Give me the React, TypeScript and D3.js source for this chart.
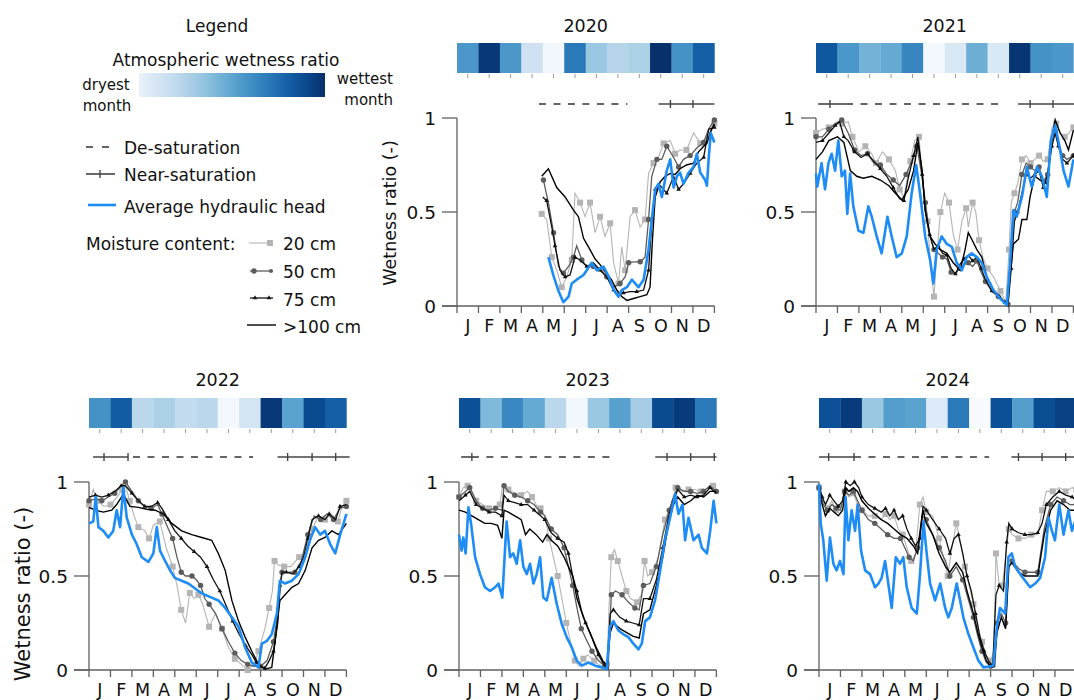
import React from "react";
import * as d3 from "d3";

type Pt = [number, number];

const FONT = "DejaVu Sans, Verdana, sans-serif";
const monthLabels = ["J", "F", "M", "A", "M", "J", "J", "A", "S", "O", "N", "D"];
const yTicks = [0, 0.5, 1];
const monthTicks = d3.range(13);

// monthly atmospheric wetness ratio (0 = dryest, 1 = wettest)
const atmo2020 = [0.6, 0.97, 0.6, 0.2, 0.03, 0.72, 0.38, 0.3, 0.33, 1.0, 0.62, 0.82];
const atmo2021 = [0.85, 0.6, 0.48, 0.52, 0.67, 0.02, 0.15, 0.5, 0.15, 0.98, 0.62, 0.6];
const atmo2022 = [0.62, 0.83, 0.28, 0.33, 0.25, 0.28, 0.02, 0.18, 0.97, 0.55, 0.9, 0.82];
const atmo2023 = [0.88, 0.45, 0.66, 0.52, 0.28, 0.03, 0.38, 0.56, 0.35, 0.9, 0.96, 0.72];
const atmo2024 = [0.88, 0.96, 0.38, 0.57, 0.55, 0.13, 0.72, 0.0, 0.88, 0.57, 0.89, 0.94];

// saturation periods, in months from 1 January
const desat2020: Pt[] = [[3.82, 7.94]];
const near2020: Pt[] = [[9.4, 12]];
const nearTicks2020 = [9.95, 11.0];
const desat2021: Pt[] = [[1.4, 8.6]];
const near2021: Pt[] = [[0.1, 1.4], [9.42, 12.1]];
const nearTicks2021 = [0.65, 9.98, 11.05];
const desat2022: Pt[] = [[2.05, 7.65]];
const near2022: Pt[] = [[0.19, 1.82], [8.79, 12.15]];
const nearTicks2022 = [0.7, 1.82, 9.26, 10.4, 11.5];
const desat2023: Pt[] = [[0.6, 7.3]];
const near2023: Pt[] = [[0.1, 0.6], [9.15, 12]];
const nearTicks2023 = [0.6, 9.7, 10.8, 11.9];
const desat2024: Pt[] = [[1.63, 7.93]];
const near2024: Pt[] = [[0, 1.63], [8.97, 12.2]];
const nearTicks2024 = [0.45, 1.63, 9.3, 10.4, 11.5];

// 2020 series [month, wetness ratio]
const head2020: Pt[] = [[4.26,.26],[4.5,.16],[4.73,.08],[4.96,.02],[5.2,.05],[5.35,.12],[5.58,.14],[5.9,.165],[6.28,.23],[6.52,.19],[6.83,.21],[7.06,.16],[7.3,.085],[7.53,.05],[7.68,.085],[7.92,.1],[8.15,.14],[8.46,.1],[8.7,.14],[8.93,.3],[9.08,.46],[9.24,.62],[9.39,.65],[9.55,.58],[9.78,.72],[9.94,.78],[10.1,.63],[10.25,.69],[10.4,.71],[10.56,.65],[10.8,.71],[11.03,.74],[11.18,.81],[11.34,.71],[11.57,.67],[11.65,.64],[11.73,.78],[11.83,.92],[12,.87]];
const d100_2020: Pt[] = [[3.95,.69],[4.26,.73],[4.65,.63],[5.04,.58],[5.43,.51],[5.66,.475],[5.9,.36],[6.2,.3],[6.44,.25],[6.67,.22],[6.98,.17],[7.2,.14],[7.45,.085],[7.68,.05],[7.92,.03],[8.23,.04],[8.54,.05],[8.85,.06],[9.0,.1],[9.1,.33],[9.24,.58],[9.47,.66],[9.7,.69],[9.94,.705],[10.17,.7],[10.4,.73],[10.7,.75],[11.03,.76],[11.26,.82],[11.5,.85],[11.65,.865],[11.8,.92],[12,.97]];
const d75_2020: Pt[] = [[4.0,.58],[4.18,.56],[4.42,.42],[4.57,.32],[4.8,.19],[5.04,.155],[5.27,.165],[5.5,.26],[5.74,.245],[6.05,.21],[6.36,.23],[6.67,.19],[6.98,.155],[7.3,.085],[7.53,.06],[7.76,.07],[8.07,.076],[8.38,.076],[8.7,.085],[8.93,.19],[9.08,.44],[9.24,.62],[9.47,.64],[9.78,.6],[10.1,.69],[10.33,.62],[10.56,.65],[10.87,.705],[11.18,.76],[11.5,.79],[11.73,.94],[12,.95]];
const d50_2020: Pt[] = [[4.03,.67],[4.26,.55],[4.5,.39],[4.73,.21],[4.96,.175],[5.2,.21],[5.43,.26],[5.58,.32],[5.82,.245],[6.05,.21],[6.36,.21],[6.67,.2],[6.98,.155],[7.3,.1],[7.6,.12],[7.84,.155],[8.0,.23],[8.23,.235],[8.54,.235],[8.77,.26],[8.93,.46],[9.08,.69],[9.32,.78],[9.55,.78],[9.78,.85],[10.1,.79],[10.33,.74],[10.56,.78],[10.87,.8],[11.18,.84],[11.5,.87],[11.73,.94],[12,.99]];
const d20_2020: Pt[] = [[3.95,.49],[4.18,.46],[4.42,.26],[4.65,.19],[4.88,.1],[5.12,.155],[5.35,.245],[5.5,.6],[5.74,.55],[5.97,.475],[6.2,.55],[6.44,.39],[6.67,.475],[6.9,.37],[7.14,.44],[7.3,.23],[7.53,.12],[7.68,.315],[7.84,.19],[8.07,.475],[8.3,.51],[8.54,.42],[8.77,.46],[8.93,.705],[9.16,.76],[9.39,.79],[9.63,.865],[9.94,.88],[10.17,.81],[10.4,.83],[10.7,.83],[11.03,.92],[11.34,.865],[11.65,.9],[12,.97]];

// 2021
const head2021: Pt[] = [[0,.705],[0.06,.635],[0.26,.76],[0.42,.62],[0.58,.76],[0.73,.81],[0.89,.72],[1.04,.88],[1.2,.69],[1.35,.72],[1.46,.49],[1.59,.705],[1.74,.53],[1.98,.4],[2.21,.39],[2.44,.53],[2.6,.475],[2.83,.37],[3.06,.28],[3.33,.475],[3.53,.37],[3.76,.26],[4.0,.28],[4.23,.37],[4.46,.6],[4.67,.75],[4.85,.6],[5.09,.37],[5.32,.245],[5.47,.12],[5.63,.3],[5.86,.37],[6.1,.33],[6.33,.315],[6.56,.23],[6.8,.19],[7.03,.26],[7.26,.28],[7.5,.26],[7.73,.23],[7.96,.155],[8.27,.085],[8.58,.04],[8.9,.005],[9.05,.23],[9.2,.51],[9.36,.475],[9.6,.58],[9.83,.74],[10.06,.635],[10.3,.74],[10.53,.69],[10.76,.58],[10.95,.88],[11.15,.96],[11.35,.85],[11.54,.72],[11.77,.635],[12,.78]];
const d100_2021: Pt[] = [[0,.78],[0.3,.82],[0.6,.88],[1.0,.9],[1.3,.87],[1.6,.72],[1.9,.69],[2.2,.68],[2.6,.69],[3.0,.67],[3.4,.64],[3.7,.6],[4.0,.565],[4.3,.62],[4.55,.72],[4.75,.87],[4.95,.72],[5.09,.51],[5.32,.37],[5.55,.33],[5.79,.3],[6.1,.28],[6.4,.23],[6.72,.19],[6.95,.3],[7.1,.39],[7.26,.355],[7.5,.3],[7.73,.26],[7.96,.155],[8.27,.085],[8.58,.05],[8.9,.005],[9.08,.19],[9.2,.33],[9.44,.355],[9.6,.46],[9.83,.46],[9.98,.58],[10.2,.69],[10.45,.67],[10.76,.65],[11.0,.9],[11.15,.99],[11.38,.92],[11.6,.88],[11.77,.83],[12,.935]];
const d75_2021: Pt[] = [[0,.87],[0.3,.88],[0.6,.92],[0.9,.96],[1.1,.98],[1.3,.9],[1.5,.88],[1.8,.82],[2.1,.79],[2.4,.81],[2.7,.77],[3.0,.73],[3.3,.69],[3.6,.63],[3.9,.57],[4.1,.56],[4.3,.68],[4.55,.8],[4.75,.9],[4.95,.7],[5.1,.5],[5.3,.38],[5.5,.3],[5.7,.32],[5.9,.28],[6.1,.27],[6.3,.2],[6.5,.17],[6.7,.22],[6.9,.25],[7.1,.27],[7.3,.24],[7.5,.26],[7.7,.2],[7.9,.14],[8.2,.08],[8.5,.05],[8.8,.02],[8.95,0],[9.1,.2],[9.25,.45],[9.4,.5],[9.6,.6],[9.8,.7],[10.0,.68],[10.2,.7],[10.4,.72],[10.6,.63],[10.8,.7],[11.0,.85],[11.15,.92],[11.3,.85],[11.5,.78],[11.7,.76],[11.85,.78],[12,.8]];
const d50_2021: Pt[] = [[0,.9],[0.3,.9],[0.6,.94],[0.9,.97],[1.2,.99],[1.5,.92],[1.8,.83],[2.1,.8],[2.4,.81],[2.7,.76],[3.0,.75],[3.3,.7],[3.6,.67],[3.9,.64],[4.2,.7],[4.5,.78],[4.7,.85],[4.9,.72],[5.1,.55],[5.3,.38],[5.5,.3],[5.7,.28],[5.9,.26],[6.1,.25],[6.3,.18],[6.5,.17],[6.7,.2],[6.9,.22],[7.1,.23],[7.3,.21],[7.5,.24],[7.7,.18],[7.9,.13],[8.2,.08],[8.5,.05],[8.8,.02],[8.95,.01],[9.1,.25],[9.25,.5],[9.4,.55],[9.6,.7],[9.8,.76],[10.0,.74],[10.2,.72],[10.4,.74],[10.6,.66],[10.8,.7],[11.0,.88],[11.15,.93],[11.3,.86],[11.5,.8],[11.7,.78],[12,.8]];
const d20_2021: Pt[] = [[0,.92],[0.3,.94],[0.6,.95],[0.9,.97],[1.2,.97],[1.5,.98],[1.7,.9],[2.0,.82],[2.3,.85],[2.6,.81],[2.8,.76],[3.1,.82],[3.4,.78],[3.7,.72],[3.9,.62],[4.1,.58],[4.4,.77],[4.6,.88],[4.8,.9],[5.0,.65],[5.2,.45],[5.35,.2],[5.5,.05],[5.6,.22],[5.8,.5],[6.0,.6],[6.2,.55],[6.4,.38],[6.6,.3],[6.8,.45],[7.0,.52],[7.1,.42],[7.3,.55],[7.45,.5],[7.6,.35],[7.8,.25],[8.0,.2],[8.3,.15],[8.6,.08],[8.85,.02],[9.0,.3],[9.1,.55],[9.25,.6],[9.4,.65],[9.6,.78],[9.8,.8],[10.0,.76],[10.2,.78],[10.4,.8],[10.6,.77],[10.8,.78],[11.0,.95],[11.2,.97],[11.4,.92],[11.6,.9],[11.8,.92],[12,.95]];

// 2022
const head2022: Pt[] = [[0,.78],[0.2,.79],[0.31,.92],[0.44,.76],[0.67,.74],[0.9,.705],[1.13,.74],[1.29,.85],[1.45,.76],[1.6,.97],[1.76,.81],[2.0,.72],[2.22,.67],[2.46,.6],[2.77,.575],[3.0,.62],[3.16,.76],[3.31,.635],[3.55,.58],[3.78,.53],[4.0,.49],[4.32,.475],[4.63,.46],[4.87,.44],[5.1,.42],[5.4,.4],[5.72,.385],[6.03,.37],[6.35,.33],[6.66,.28],[6.97,.23],[7.28,.12],[7.59,.04],[7.9,.014],[8.06,.14],[8.3,.155],[8.52,.19],[8.76,.3],[8.9,.475],[9.14,.46],[9.46,.475],[9.77,.51],[10.08,.6],[10.3,.69],[10.54,.76],[10.78,.72],[11.0,.74],[11.24,.67],[11.48,.62],[11.71,.72],[11.87,.78],[12,.83]];
const d100_2022: Pt[] = [[0,.865],[0.28,.85],[0.67,.84],[1.06,.85],[1.29,.88],[1.6,.935],[1.91,.87],[2.3,.865],[2.69,.855],[3.08,.85],[3.47,.83],[3.86,.78],[4.32,.74],[4.79,.72],[5.26,.705],[5.72,.69],[6.03,.62],[6.35,.53],[6.66,.37],[6.97,.26],[7.28,.175],[7.59,.1],[7.9,.03],[8.2,.005],[8.52,.014],[8.68,.155],[8.9,.37],[9.14,.4],[9.46,.44],[9.77,.46],[10.08,.53],[10.4,.65],[10.7,.69],[11.0,.705],[11.32,.74],[11.63,.72],[12,.78]];
const d75_2022: Pt[] = [[0,.92],[0.3,.93],[0.6,.92],[0.9,.93],[1.2,.95],[1.5,.98],[1.7,.98],[2.0,.94],[2.3,.9],[2.6,.87],[2.9,.87],[3.2,.89],[3.4,.86],[3.7,.8],[4.0,.74],[4.3,.7],[4.6,.66],[4.9,.63],[5.2,.6],[5.5,.55],[5.8,.48],[6.1,.42],[6.4,.34],[6.7,.26],[7.0,.19],[7.3,.13],[7.6,.08],[7.8,.04],[8.0,.02],[8.2,.01],[8.4,.05],[8.6,.1],[8.8,.25],[8.9,.45],[9.0,.52],[9.2,.52],[9.5,.51],[9.8,.55],[10.0,.6],[10.2,.7],[10.4,.8],[10.7,.82],[11.0,.8],[11.2,.83],[11.5,.8],[11.7,.87],[12,.88]];
const d50_2022: Pt[] = [[0,.9],[0.3,.91],[0.6,.9],[0.9,.92],[1.2,.94],[1.5,.98],[1.7,1.0],[2.0,.95],[2.3,.9],[2.6,.87],[2.9,.86],[3.2,.88],[3.4,.83],[3.7,.75],[3.9,.7],[4.1,.6],[4.3,.52],[4.5,.5],[4.8,.5],[5.0,.48],[5.2,.45],[5.4,.38],[5.6,.35],[5.9,.3],[6.2,.22],[6.5,.15],[6.8,.09],[7.1,.05],[7.4,.03],[7.7,.02],[8.0,.02],[8.3,.05],[8.6,.15],[8.8,.3],[9.0,.52],[9.3,.52],[9.6,.52],[9.9,.58],[10.2,.72],[10.5,.82],[10.8,.8],[11.1,.83],[11.4,.8],[11.7,.86],[12,.87]];
const d20_2022: Pt[] = [[0,.88],[0.2,.96],[0.4,.9],[0.7,.87],[1.0,.88],[1.3,.92],[1.55,.96],[1.7,.98],[1.9,.9],[2.1,.82],[2.3,.76],[2.6,.74],[2.8,.7],[3.0,.77],[3.3,.79],[3.6,.65],[3.9,.55],[4.1,.45],[4.3,.32],[4.5,.25],[4.7,.41],[4.9,.38],[5.1,.4],[5.3,.35],[5.6,.23],[5.9,.3],[6.2,.22],[6.5,.12],[6.8,.06],[7.1,.03],[7.4,0],[7.7,.03],[7.9,.1],[8.2,.22],[8.4,.33],[8.55,.42],[8.65,.58],[8.8,.56],[9.1,.55],[9.4,.55],[9.8,.6],[10.1,.62],[10.4,.75],[10.7,.82],[11.0,.8],[11.3,.83],[11.6,.79],[11.8,.87],[12,.9]];

// 2023
const head2023: Pt[] = [[0,.72],[0.12,.635],[0.2,.705],[0.31,.62],[0.44,.865],[0.56,.78],[0.75,.6],[0.98,.51],[1.21,.44],[1.45,.42],[1.68,.44],[1.84,.46],[2.02,.385],[2.15,.65],[2.22,.79],[2.38,.6],[2.53,.62],[2.69,.565],[2.85,.69],[3.0,.55],[3.16,.51],[3.31,.565],[3.47,.46],[3.62,.51],[3.78,.6],[3.93,.385],[4.09,.37],[4.32,.49],[4.56,.35],[4.79,.245],[5.02,.175],[5.26,.12],[5.49,.05],[5.72,.023],[6.03,.04],[6.35,.023],[6.66,.014],[6.89,.005],[7.04,.23],[7.2,.26],[7.43,.21],[7.67,.19],[7.9,.175],[8.13,.14],[8.37,.11],[8.52,.14],[8.68,.26],[8.9,.28],[9.14,.37],[9.38,.53],[9.6,.69],[9.84,.81],[10.08,.935],[10.23,.83],[10.42,.88],[10.54,.69],[10.7,.81],[10.93,.69],[11.17,.72],[11.32,.65],[11.56,.62],[11.71,.74],[11.87,.9],[12,.78]];
const d100_2023: Pt[] = [[0,.85],[0.3,.84],[0.6,.82],[0.9,.8],[1.2,.78],[1.5,.78],[1.8,.77],[2.0,.7],[2.1,.85],[2.3,.84],[2.6,.82],[2.9,.8],[3.1,.72],[3.3,.75],[3.6,.72],[3.9,.68],[4.1,.72],[4.3,.69],[4.6,.66],[4.9,.6],[5.1,.55],[5.3,.5],[5.5,.38],[5.8,.28],[6.1,.2],[6.4,.12],[6.7,.05],[6.9,.02],[7.05,.2],[7.2,.25],[7.5,.22],[7.8,.2],[8.1,.18],[8.4,.17],[8.6,.3],[8.9,.32],[9.2,.45],[9.5,.6],[9.8,.8],[10.0,.88],[10.2,.92],[10.5,.88],[10.8,.9],[11.1,.93],[11.4,.92],[11.7,.95],[12,.95]];
const d75_2023: Pt[] = [[0,.9],[0.3,.93],[0.5,.95],[0.8,.88],[1.1,.86],[1.4,.84],[1.7,.84],[2.0,.82],[2.1,.93],[2.3,.9],[2.6,.89],[2.9,.88],[3.2,.88],[3.5,.85],[3.8,.82],[4.0,.8],[4.3,.73],[4.6,.7],[4.9,.68],[5.1,.62],[5.3,.5],[5.5,.42],[5.7,.32],[5.9,.25],[6.2,.17],[6.5,.08],[6.8,.02],[6.9,.01],[7.05,.3],[7.2,.32],[7.5,.28],[7.8,.26],[8.1,.25],[8.4,.24],[8.6,.38],[8.9,.38],[9.2,.48],[9.5,.65],[9.8,.83],[10.0,.9],[10.2,.96],[10.5,.92],[10.8,.93],[11.1,.92],[11.4,.93],[11.7,.97],[12,.94]];
const d50_2023: Pt[] = [[0,.92],[0.3,.95],[0.5,.97],[0.8,.9],[1.1,.86],[1.4,.85],[1.7,.86],[2.0,.85],[2.1,.98],[2.3,.95],[2.6,.93],[2.9,.92],[3.2,.9],[3.5,.88],[3.8,.84],[4.0,.82],[4.3,.75],[4.6,.72],[4.9,.65],[5.1,.55],[5.3,.45],[5.5,.33],[5.7,.22],[5.9,.17],[6.2,.1],[6.5,.05],[6.8,.02],[6.95,.01],[7.1,.4],[7.3,.42],[7.6,.4],[7.9,.36],[8.2,.33],[8.4,.32],[8.6,.45],[8.9,.46],[9.2,.55],[9.5,.72],[9.8,.85],[10.0,.92],[10.2,.97],[10.5,.95],[10.8,.95],[11.1,.94],[11.4,.95],[11.7,.98],[12,.95]];
const d20_2023: Pt[] = [[0,.92],[0.2,.97],[0.4,.98],[0.6,.95],[0.8,.9],[1.1,.88],[1.4,.86],[1.7,.85],[1.9,.88],[2.05,.99],[2.3,.96],[2.6,.94],[2.9,.93],[3.2,.95],[3.4,.92],[3.6,.88],[3.8,.86],[4.0,.82],[4.2,.7],[4.4,.6],[4.6,.5],[4.8,.38],[5.0,.25],[5.2,.15],[5.4,.05],[5.6,.02],[5.8,.06],[6.0,.08],[6.3,.05],[6.6,.02],[6.9,.03],[7.0,.35],[7.1,.6],[7.25,.64],[7.4,.58],[7.6,.5],[7.8,.42],[8.0,.38],[8.3,.36],[8.5,.4],[8.65,.58],[8.8,.5],[9.0,.52],[9.3,.6],[9.6,.8],[9.9,.88],[10.1,.97],[10.4,.95],[10.7,.96],[11.0,.96],[11.3,.95],[11.6,.97],[11.85,.98],[12,.96]];

// 2024
const head2024: Pt[] = [[0,.99],[0.08,.78],[0.2,.69],[0.36,.475],[0.51,.705],[0.67,.565],[0.82,.53],[0.98,.58],[1.14,.51],[1.24,.92],[1.37,.69],[1.52,.85],[1.68,.74],[1.8,.88],[1.96,.635],[2.15,.53],[2.38,.51],[2.61,.44],[2.77,.46],[2.92,.49],[3.08,.58],[3.23,.46],[3.39,.33],[3.58,.6],[3.78,.565],[3.93,.6],[4.09,.44],[4.32,.33],[4.56,.3],[4.71,.51],[4.87,.79],[5.02,.62],[5.18,.46],[5.41,.37],[5.65,.46],[5.88,.33],[6.03,.28],[6.19,.33],[6.42,.46],[6.58,.37],[6.73,.28],[6.97,.19],[7.2,.12],[7.43,.05],[7.67,.014],[7.9,.018],[8.13,.023],[8.29,.23],[8.44,.33],[8.68,.3],[8.83,.6],[8.99,.62],[9.14,.55],[9.38,.51],[9.61,.475],[9.84,.44],[10.08,.46],[10.31,.49],[10.54,.6],[10.7,.81],[10.86,.74],[11.0,.69],[11.2,.88],[11.4,.72],[11.63,.85],[11.79,.74],[11.94,.79],[12.1,.72]];
const d100_2024: Pt[] = [[0,.98],[0.1,.9],[0.3,.82],[0.5,.86],[0.7,.84],[0.9,.82],[1.1,.85],[1.25,.97],[1.4,.95],[1.6,.97],[1.8,.95],[2.0,.9],[2.3,.86],[2.6,.83],[2.9,.8],[3.2,.78],[3.5,.75],[3.8,.72],[4.1,.7],[4.4,.66],[4.6,.62],[4.85,.85],[5.0,.78],[5.3,.72],[5.6,.62],[5.9,.55],[6.1,.52],[6.4,.57],[6.7,.52],[6.9,.42],[7.2,.3],[7.4,.2],[7.6,.12],[7.8,.05],[8.0,.02],[8.15,.02],[8.3,.2],[8.5,.28],[8.7,.22],[8.85,.55],[9.0,.57],[9.3,.52],[9.6,.5],[9.9,.5],[10.2,.5],[10.5,.72],[10.8,.85],[11.1,.9],[11.4,.88],[11.7,.85],[12,.85]];
const d75_2024: Pt[] = [[0,.98],[0.15,.92],[0.3,.88],[0.5,.93],[0.7,.9],[0.9,.87],[1.1,.9],[1.25,1.0],[1.45,.98],[1.65,1.0],[1.85,.97],[2.0,.92],[2.3,.88],[2.6,.86],[2.9,.84],[3.1,.86],[3.3,.82],[3.5,.85],[3.7,.8],[3.9,.82],[4.1,.75],[4.3,.7],[4.5,.66],[4.7,.7],[4.85,.87],[5.0,.85],[5.3,.8],[5.6,.75],[5.9,.7],[6.1,.62],[6.3,.7],[6.5,.72],[6.7,.62],[6.9,.5],[7.1,.42],[7.3,.3],[7.5,.18],[7.7,.1],[7.9,.05],[8.1,.02],[8.25,.4],[8.4,.45],[8.6,.42],[8.75,.68],[8.85,.78],[9.0,.75],[9.3,.73],[9.6,.72],[9.9,.72],[10.2,.73],[10.4,.78],[10.6,.88],[10.9,.92],[11.2,.95],[11.5,.93],[11.8,.92],[12,.9]];
const d50_2024: Pt[] = [[0,.97],[0.2,.88],[0.4,.85],[0.6,.88],[0.8,.86],[1.0,.85],[1.2,.95],[1.4,.93],[1.6,.95],[1.8,.9],[2.0,.85],[2.3,.8],[2.6,.78],[2.9,.75],[3.2,.72],[3.5,.7],[3.8,.7],[4.0,.65],[4.2,.6],[4.4,.58],[4.6,.65],[4.8,.82],[5.0,.8],[5.3,.72],[5.6,.65],[5.9,.58],[6.1,.5],[6.4,.55],[6.7,.48],[6.9,.4],[7.2,.28],[7.4,.18],[7.6,.1],[7.8,.04],[8.0,.02],[8.2,.02],[8.3,.25],[8.5,.3],[8.7,.25],[8.85,.55],[9.0,.58],[9.3,.54],[9.6,.52],[9.9,.52],[10.2,.52],[10.5,.75],[10.8,.88],[11.1,.92],[11.4,.9],[11.7,.88],[12,.88]];
const d20_2024: Pt[] = [[0,.97],[0.2,.9],[0.4,.86],[0.6,.9],[0.8,.85],[1.0,.87],[1.2,.95],[1.4,.92],[1.6,.94],[1.8,.88],[2.0,.85],[2.3,.82],[2.6,.82],[2.9,.8],[3.1,.83],[3.3,.8],[3.5,.82],[3.7,.75],[3.9,.72],[4.1,.65],[4.3,.58],[4.5,.62],[4.7,.88],[4.85,.92],[5.0,.84],[5.3,.82],[5.6,.7],[5.8,.6],[6.0,.5],[6.2,.65],[6.4,.78],[6.6,.68],[6.8,.55],[7.0,.45],[7.2,.35],[7.4,.22],[7.6,.15],[7.8,.08],[8.0,.05],[8.15,.1],[8.25,.62],[8.4,.45],[8.55,.45],[8.7,.6],[8.85,.75],[9.0,.72],[9.3,.7],[9.6,.7],[9.9,.72],[10.2,.72],[10.4,.85],[10.6,.95],[10.9,.95],[11.2,.97],[11.5,.95],[11.8,.97],[12,.96]];

const PW = 12 * 21.45;
const PH = 188;

const C20 = "#b4b4b4";
const C50 = "#5c5c5c";
const C75 = "#111";
const C100 = "#000";
const CHEAD = "#1e8cf5";
const AXIS = "#606060";

const panels = [
  { year: 2020, x0: 457, top: 118, stripY: 43, satY: 104, titleY: 32, atmo: atmo2020, desat: desat2020, near: near2020, nearTicks: nearTicks2020, head: head2020, d20: d20_2020, d50: d50_2020, d75: d75_2020, d100: d100_2020, yLabel: { x: 390, y: 213, size: 17.5 } },
  { year: 2021, x0: 816, top: 118, stripY: 43, satY: 104, titleY: 32, atmo: atmo2021, desat: desat2021, near: near2021, nearTicks: nearTicks2021, head: head2021, d20: d20_2021, d50: d50_2021, d75: d75_2021, d100: d100_2021 },
  { year: 2022, x0: 89, top: 482, stripY: 398, satY: 457, titleY: 386, atmo: atmo2022, desat: desat2022, near: near2022, nearTicks: nearTicks2022, head: head2022, d20: d20_2022, d50: d50_2022, d75: d75_2022, d100: d100_2022, yLabel: { x: 23, y: 594, size: 21 } },
  { year: 2023, x0: 459, top: 482, stripY: 398, satY: 457, titleY: 386, atmo: atmo2023, desat: desat2023, near: near2023, nearTicks: nearTicks2023, head: head2023, d20: d20_2023, d50: d50_2023, d75: d75_2023, d100: d100_2023 },
  { year: 2024, x0: 819, top: 482, stripY: 398, satY: 457, titleY: 386, atmo: atmo2024, desat: desat2024, near: near2024, nearTicks: nearTicks2024, head: head2024, d20: d20_2024, d50: d50_2024, d75: d75_2024, d100: d100_2024 },
];

const tri = d3.symbol().type(d3.symbolTriangle).size(9)();

function Panel({ p }: { p: any }) {
  const x = d3.scaleLinear().domain([0, 12]).range([p.x0, p.x0 + PW]);
  const y = d3.scaleLinear().domain([0, 1]).range([p.top + PH, p.top]);
  const line = d3.line<Pt>().x((d) => x(d[0])).y((d) => y(d[1]));
  const x1 = x(12);
  return (
    <g>
      <text x={(p.x0 + x1) / 2} y={p.titleY} textAnchor="middle" fontSize={17.5}>{p.year}</text>
      {/* atmospheric wetness strip */}
      {p.atmo.map((v: number, i: number) => (
        <rect key={i} x={x(i)} y={p.stripY} width={x(i + 1) - x(i) + 0.3} height={30} fill={d3.interpolateBlues(v)} />
      ))}
      {p.atmo.map((_: number, i: number) => (
        <line key={"st" + i} x1={x(i + 0.5)} x2={x(i + 0.5)} y1={p.stripY + 31} y2={p.stripY + 35} stroke="#999" strokeWidth={1} />
      ))}
      {/* saturation periods */}
      {p.desat.map((s: Pt, i: number) => (
        <line key={"ds" + i} x1={x(s[0])} x2={x(s[1])} y1={p.satY} y2={p.satY} stroke="#333" strokeWidth={1.6} strokeDasharray="7 7.5" />
      ))}
      {p.near.map((s: Pt, i: number) => (
        <line key={"ns" + i} x1={x(s[0])} x2={x(s[1])} y1={p.satY} y2={p.satY} stroke="#444" strokeWidth={1.6} />
      ))}
      {p.nearTicks.map((t: number, i: number) => (
        <line key={"nt" + i} x1={x(t)} x2={x(t)} y1={p.satY - 4} y2={p.satY + 4} stroke="#444" strokeWidth={1.4} />
      ))}
      {/* axes */}
      <line x1={p.x0} x2={p.x0} y1={y(0)} y2={y(1)} stroke={AXIS} strokeWidth={1.3} />
      <line x1={p.x0 - 15} x2={x1} y1={y(0)} y2={y(0)} stroke={AXIS} strokeWidth={1.3} />
      {yTicks.map((t) => (
        <g key={"yt" + t}>
          <line x1={p.x0 - 15} x2={p.x0} y1={y(t)} y2={y(t)} stroke={AXIS} strokeWidth={1.3} />
          <text x={p.x0 - 21} y={y(t)} textAnchor="end" dominantBaseline="central" fontSize={18.5}>{t === 0.5 ? "0.5" : String(t)}</text>
        </g>
      ))}
      {monthTicks.map((m) => (
        <line key={"xt" + m} x1={x(m)} x2={x(m)} y1={y(0)} y2={y(0) + 7} stroke={AXIS} strokeWidth={1.3} />
      ))}
      {monthLabels.map((m, i) => (
        <text key={"ml" + i} x={x(i + 0.5)} y={y(0) + 26} textAnchor="middle" fontSize={17.5}>{m}</text>
      ))}
      {p.yLabel && (
        <text transform={`translate(${p.yLabel.x},${p.yLabel.y}) rotate(-90)`} textAnchor="middle" dominantBaseline="central" fontSize={p.yLabel.size}>Wetness ratio (-)</text>
      )}
      {/* series */}
      <path d={line(p.d20) || ""} fill="none" stroke={C20} strokeWidth={1.1} />
      {p.d20.filter((_: Pt, i: number) => i % 2 === 0).map((d: Pt, i: number) => (
        <rect key={"s20" + i} x={x(d[0]) - 3} y={y(d[1]) - 3} width={6} height={6} fill={C20} />
      ))}
      <path d={line(p.d50) || ""} fill="none" stroke={C50} strokeWidth={1.3} />
      {p.d50.filter((_: Pt, i: number) => i % 2 === 0).map((d: Pt, i: number) => (
        <circle key={"s50" + i} cx={x(d[0])} cy={y(d[1])} r={2.7} fill={C50} />
      ))}
      <path d={line(p.d75) || ""} fill="none" stroke={C75} strokeWidth={1.3} />
      {p.d75.filter((_: Pt, i: number) => i % 2 === 1).map((d: Pt, i: number) => (
        <path key={"s75" + i} d={tri || ""} transform={`translate(${x(d[0])},${y(d[1])})`} fill={C75} />
      ))}
      <path d={line(p.d100) || ""} fill="none" stroke={C100} strokeWidth={1.4} />
      <path d={line(p.head) || ""} fill="none" stroke={CHEAD} strokeWidth={2.6} strokeLinejoin="round" />
    </g>
  );
}

function Legend() {
  const stops = d3.range(0, 1.001, 0.1);
  return (
    <g>
      <defs>
        <linearGradient id="atmoGrad" x1="0" x2="1" y1="0" y2="0">
          {stops.map((s) => (
            <stop key={s} offset={s} stopColor={d3.interpolateBlues(0.08 + 0.92 * s)} />
          ))}
        </linearGradient>
      </defs>
      <text x={217} y={32} textAnchor="middle" fontSize={17}>Legend</text>
      <text x={226} y={66} textAnchor="middle" fontSize={17}>Atmospheric wetness ratio</text>
      <rect x={139} y={73} width={186} height={24} fill="url(#atmoGrad)" />
      <text x={106} y={90} textAnchor="middle" fontSize={15}>dryest</text>
      <text x={107} y={111} textAnchor="middle" fontSize={15}>month</text>
      <text x={393} y={84} textAnchor="end" fontSize={15}>wettest</text>
      <text x={393} y={105} textAnchor="end" fontSize={15}>month</text>

      <line x1={86} x2={110} y1={147} y2={147} stroke="#333" strokeWidth={1.6} strokeDasharray="7 9" />
      <text x={124} y={154} fontSize={17}>De-saturation</text>
      <line x1={86} x2={115} y1={174} y2={174} stroke="#444" strokeWidth={1.6} />
      <line x1={100} x2={100} y1={170} y2={178} stroke="#444" strokeWidth={1.4} />
      <text x={124} y={181} fontSize={17}>Near-saturation</text>
      <line x1={88} x2={116} y1={205} y2={205} stroke={CHEAD} strokeWidth={2.6} />
      <text x={124} y={213} fontSize={17}>Average hydraulic head</text>

      <text x={86} y={250} fontSize={17}>Moisture content:</text>
      <line x1={249} x2={272} y1={243} y2={243} stroke={C20} strokeWidth={1.1} />
      <rect x={267} y={240} width={6} height={6} fill={C20} />
      <text x={283} y={250} fontSize={17}>20 cm</text>
      <line x1={250} x2={273} y1={271} y2={271} stroke={C50} strokeWidth={1.3} />
      <circle cx={254} cy={271} r={2.7} fill={C50} />
      <circle cx={271} cy={271} r={2} fill={C50} />
      <text x={283} y={278} fontSize={17}>50 cm</text>
      <line x1={250} x2={273} y1={298} y2={298} stroke={C75} strokeWidth={1.3} />
      <path d={tri || ""} transform="translate(255,298)" fill={C75} />
      <path d={tri || ""} transform="translate(269,298)" fill={C75} />
      <text x={283} y={306} fontSize={17}>75 cm</text>
      <line x1={247} x2={276} y1={325} y2={325} stroke={C100} strokeWidth={1.4} />
      <text x={283} y={333} fontSize={17}>&gt;100 cm</text>
    </g>
  );
}

export default function App() {
  return (
    <svg
      width={1074}
      height={700}
      style={{ position: "absolute", left: 0, top: 0, display: "block", background: "#fff" }}
      fontFamily={FONT}
      fill="#111"
    >
      <rect x={0} y={0} width={1074} height={700} fill="#fff" />
      <Legend />
      {panels.map((p) => (
        <Panel key={p.year} p={p} />
      ))}
    </svg>
  );
}
